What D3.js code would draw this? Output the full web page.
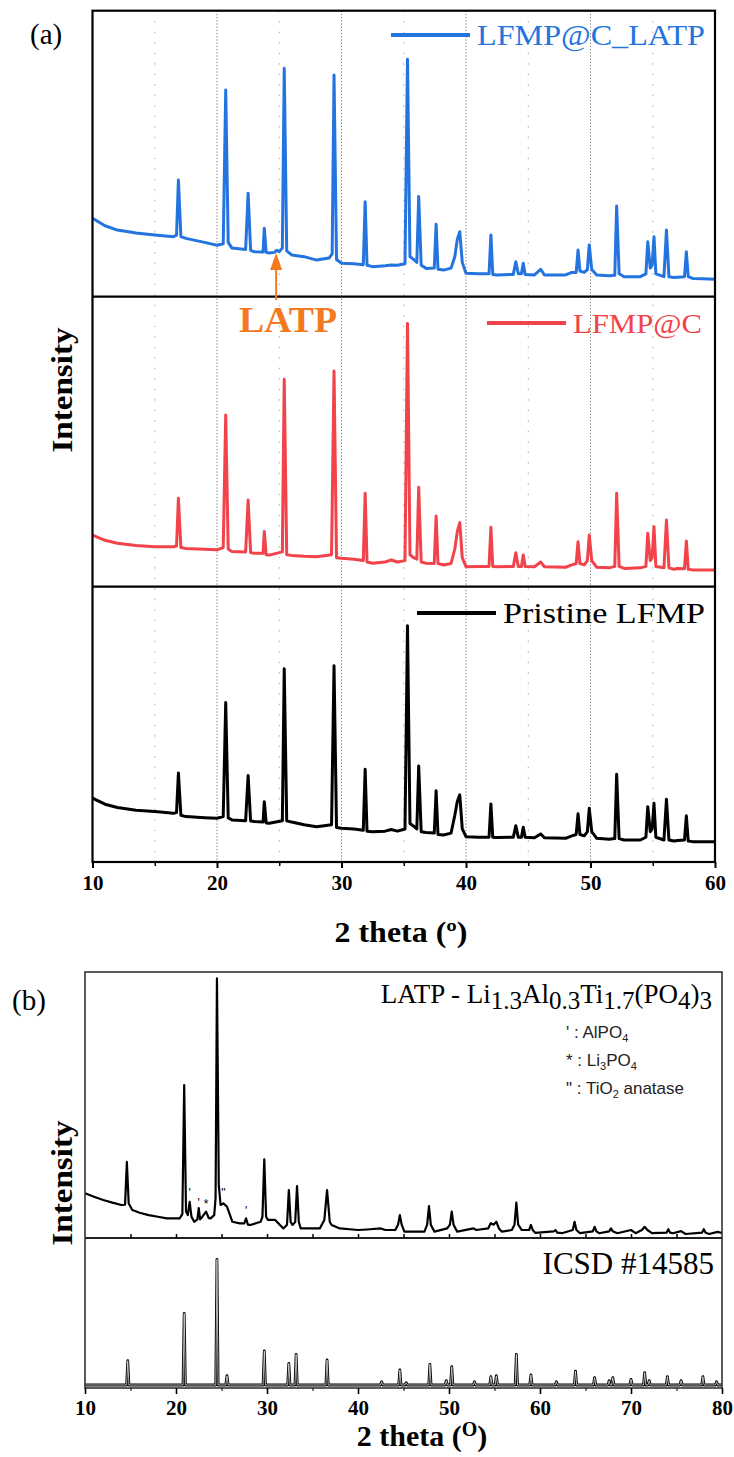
<!DOCTYPE html>
<html><head><meta charset="utf-8">
<script src="https://cdn.jsdelivr.net/npm/d3@7"></script>
<style>html,body{margin:0;padding:0;background:#fff;}svg{display:block;}</style>
</head><body>
<script>
// ---------- DATA ----------
const aTicks = [10, 20, 30, 40, 50, 60];
const bTicks = [10, 20, 30, 40, 50, 60, 70, 80];
const aSeriesNames = ["LFMP@C_LATP", "LFMP@C", "Pristine LFMP"];

const aBlue = [[10,27.4],[11,24.8],[12,23.3],[13.5,22.3],[15,21.6],[16.5,21],[16.75,21.5],[16.9,40.8],[17.1,21],[17.5,20.4],[19,19],[20,18],[20.5,18.5],[20.7,72.3],[20.9,19],[21.2,17],[22.3,16.5],[22.5,36.2],[22.7,16.2],[23,15.7],[23.7,15.6],[23.8,23.9],[23.95,15.5],[24.2,15.3],[24.6,15.5],[24.8,16.2],[25.0,15.8],[25.25,17],[25.4,79.9],[25.6,16],[26,14.6],[27,14],[28,12.8],[29,13.5],[29.25,15],[29.4,77.5],[29.6,13],[30,11.7],[31,11.5],[31.75,11.2],[31.9,33.2],[32.05,11],[32.5,10.5],[33.5,10.8],[34,11.1],[34.5,11],[35.1,11.5],[35.3,83],[35.5,14],[35.8,13],[36.05,12],[36.2,35],[36.4,11],[36.8,9.9],[37.45,10],[37.6,25.3],[37.75,9.6],[38.2,9.3],[38.8,10],[39.1,14],[39.3,20],[39.5,22.7],[39.7,12],[40,8.2],[41,8],[41.85,8],[42,21.6],[42.15,7.8],[42.5,7.6],[43.8,7.8],[44,12.2],[44.2,8],[44.45,8],[44.6,11.7],[44.75,7.8],[45.5,7.6],[46,9.6],[46.3,7.6],[48,7.6],[48.5,8.5],[48.85,8.5],[49,16.3],[49.15,9],[49.5,8.5],[49.75,9.5],[49.9,18.1],[50.1,9.5],[50.5,7.6],[51.5,7.3],[51.95,7.5],[52.1,31.7],[52.3,8],[52.7,7],[54,7],[54.45,8],[54.6,19.2],[54.8,10],[54.95,11],[55.1,21],[55.25,8],[55.9,7],[56.1,23.3],[56.3,7],[56.7,6.7],[57,6.8],[57.55,7],[57.7,15.7],[57.85,7],[58.2,6.4],[59,6.3],[60,6.1]];

const aRed = [[10,17.8],[11,16],[12,15],[13.5,14.2],[15,13.8],[16.5,13.8],[16.75,14],[16.9,30.5],[17.1,13.5],[17.5,13.2],[19,12.9],[20,12.7],[20.5,13.5],[20.7,59.2],[20.9,13],[21.2,12.1],[22.3,12],[22.5,29.9],[22.7,11.8],[23,11.5],[23.7,11.5],[23.8,19],[23.95,11],[24.2,10.9],[25.25,12],[25.4,71.5],[25.6,11],[26,10.8],[27,10.5],[28,10.3],[29.2,11],[29.4,74.4],[29.6,10],[30,9.8],[31,9.5],[31.75,9],[31.9,32.2],[32.05,8.5],[32.5,8.1],[33.5,8.5],[34,9.2],[34.5,8.5],[35.1,9],[35.3,90.8],[35.5,11],[35.8,10],[36.05,9.5],[36.2,34.3],[36.4,8.5],[36.8,8.1],[37.45,8],[37.6,24.4],[37.75,8],[38.2,7.5],[38.8,8],[39.1,13],[39.3,19],[39.5,22.1],[39.7,10],[40,6.9],[41,7],[41.85,7],[42,20.5],[42.15,7],[42.5,6.9],[43.8,7],[44,11.7],[44.2,7],[44.45,7],[44.6,10.9],[44.75,7],[45.5,6.9],[46,8.5],[46.3,6.9],[48,6.7],[48.5,7.5],[48.85,8],[49,15.5],[49.15,8],[49.5,7.5],[49.75,9],[49.9,17.8],[50.1,9],[50.5,6.7],[51.5,6.5],[51.95,7],[52.1,32.2],[52.3,7],[52.7,6.3],[54,6.5],[54.45,7],[54.6,18.4],[54.8,9],[54.95,10],[55.1,20.7],[55.25,7],[55.9,6.5],[56.1,23],[56.3,6.5],[56.7,6],[57,6.3],[57.55,6.2],[57.7,15.8],[57.85,6],[58.2,5.8],[59,5.8],[60,5.8]];

const aBlack = [[10,23.2],[11,21],[12,19.8],[13.5,18.8],[15,18.3],[16.5,17.7],[16.75,18],[16.9,32.3],[17.1,17],[17.5,16.5],[19,16.1],[20,15.9],[20.5,16.5],[20.7,57.9],[20.9,16],[21.2,15.3],[22.3,15],[22.5,31.4],[22.7,14.9],[23,14.7],[23.7,14.5],[23.8,21.9],[23.95,14.2],[24.2,14.1],[25.25,15],[25.4,70.2],[25.6,15],[26,14.5],[27,13.5],[28,12.8],[29.2,13.5],[29.4,71.3],[29.6,12.5],[30,12.3],[31,12],[31.75,11.5],[31.9,33.7],[32.05,11.2],[32.5,11],[33.5,11.2],[34,11.8],[34.5,11.2],[35.1,12],[35.3,85.8],[35.5,14],[35.8,13],[36.05,12],[36.2,34.9],[36.4,11],[36.8,10.7],[37.45,10.5],[37.6,25.9],[37.75,10],[38.2,9.8],[38.8,10.5],[39.1,17],[39.3,22],[39.5,24.4],[39.7,12],[40,9.2],[41,9],[41.85,9],[42,21.1],[42.15,9],[42.5,8.9],[43.8,9],[44,13.2],[44.2,9],[44.45,9],[44.6,12.6],[44.75,9],[45.5,8.8],[46,10.2],[46.3,8.8],[48,8.6],[48.5,9.5],[48.85,10],[49,17.5],[49.15,10],[49.5,9.5],[49.75,11],[49.9,19.5],[50.1,11],[50.5,8.6],[51.5,8.3],[51.95,8.5],[52.1,31.9],[52.3,8.5],[52.7,8],[54,8],[54.45,9],[54.6,20.1],[54.8,11],[54.95,12],[55.1,21.3],[55.25,9],[55.9,8],[56.1,22.8],[56.3,8],[56.7,7.6],[57,7.8],[57.55,8],[57.7,16.8],[57.85,7.6],[58.2,7.4],[59,7.4],[60,7.4]];

const latpArrowPos = 24.75;

const bLATP = [[10,16.8],[11,15.5],[12,14.3],[13,13.3],[14,12.4],[14.4,12.5],[14.6,28.6],[14.8,13],[15.2,10.5],[16,9.5],[17,8.6],[18,8],[19,7.4],[20.4,7.4],[20.7,9],[20.9,57.5],[21.1,10],[21.3,8.6],[21.5,13.6],[21.7,8],[22,6.1],[22.35,7],[22.5,11.2],[22.65,7],[22.9,8],[23.3,9.9],[23.6,7.5],[23.8,7.4],[24.2,8.6],[24.35,15],[24.5,97.6],[24.7,20],[24.9,12.4],[25.2,13],[25.6,11.8],[26.2,6.1],[27,5.5],[27.5,5.5],[27.7,7.4],[27.9,5],[28.2,4.9],[29.3,6.1],[29.5,8],[29.7,29.6],[29.9,8],[30.1,6.8],[30.9,6.8],[31.4,5],[31.8,3.6],[32.2,5],[32.4,18],[32.6,6],[32.8,4.9],[33.1,6],[33.3,19.5],[33.5,6],[33.7,3.6],[35.8,3.6],[36.3,6.8],[36.6,18],[36.9,6],[37.1,4.9],[38,3.6],[40,3],[41,3.2],[42.5,3.6],[43,3],[44.1,3],[44.4,5],[44.6,8.6],[44.8,5],[45.1,2.4],[47.3,2.4],[47.6,5],[47.8,12],[48.0,5],[48.4,2.4],[49.8,3.6],[50.1,5],[50.3,9.9],[50.5,5],[50.9,2.4],[52.7,3.6],[53,3],[54.3,3.6],[54.6,5.6],[54.9,5],[55.2,6.1],[55.5,3.5],[55.8,2.4],[56.9,3],[57.2,5],[57.4,13.3],[57.6,5],[58,3],[58.8,3],[59,4.9],[59.2,3],[59.5,1.9],[61.5,2.5],[61.7,3],[61.9,2],[62.4,1.8],[63.6,3],[63.8,6.1],[64.0,3],[64.4,1.8],[65.8,2.5],[66,4.2],[66.2,2.5],[66.5,1.8],[67.6,2.5],[67.8,3.6],[68,2.5],[68.5,1.8],[70,3],[70.5,1.8],[71.2,3],[71.5,4.2],[71.8,3],[72.3,1.8],[73.9,2],[74.1,3.3],[74.3,2],[74.6,1.8],[75.5,2.6],[76,1.5],[77.8,2],[78,3.3],[78.2,2],[78.6,1.5],[79.5,2.3],[80,1.9]];

const impurityPos = [21.5, 22.5, 23.3, 25.2, 27.7];
const impurityI = [17.3, 13.5, 13.2, 17.3, 10.5];
const impuritySym = ["'", "'", "*", "\"", "'"];

const icsdPos = [14.7,20.9,24.5,25.6,29.7,32.4,33.2,36.6,42.6,44.6,45.3,47.9,49.7,50.3,52.8,54.6,55.2,57.4,59.0,61.8,63.9,66.0,67.6,68.0,70.0,71.5,72.0,74.0,75.5,77.9,79.4];
const icsdHeight = [18.2,49.8,85.8,8.2,24.7,16.4,22.4,18.7,4.2,12,3.5,15.8,4.9,14.2,4.2,7.6,8.2,22.4,8.7,4.2,11.3,6.9,4.9,6.9,5.8,10.2,4.9,7.6,4.9,7.6,4.2];
const icsdBase = 2;

// ---------- DRAW ----------
const W = 734, H = 1457;
const serif = "'Liberation Serif','DejaVu Serif',serif";
const sans = "'Liberation Sans',Arial,sans-serif";
const svg = d3.select("body").append("svg").attr("width", W).attr("height", H)
  .style("background", "#fff");

// Panel (a)
const xA = d3.scaleLinear().domain([10, 60]).range([92.5, 715]);
const aPanels = [
  {top: 10.7, bot: 296.7, data: aBlue, color: "#2474e0"},
  {top: 296.7, bot: 586.7, data: aRed, color: "#f2424a"},
  {top: 586.7, bot: 862, data: aBlack, color: "#000"}
];
const gA = svg.append("g");

const gridVals = d3.range(15, 60, 5);
gA.selectAll("line.grid").data(gridVals).join("line")
  .attr("x1", d => xA(d)).attr("x2", d => xA(d))
  .attr("y1", 10.7).attr("y2", 862)
  .attr("stroke", d => d % 10 === 0 ? "#777" : "#aaa")
  .attr("stroke-width", 1)
  .attr("stroke-dasharray", d => d % 10 === 0 ? "1.2,2" : "1.5,9");

aPanels.forEach(p => {
  const y = d3.scaleLinear().domain([0, 100]).range([p.bot, p.top]);
  gA.append("path").datum(p.data)
    .attr("d", d3.line().x(d => xA(d[0])).y(d => y(d[1])))
    .attr("fill", "none").attr("stroke", p.color)
    .attr("stroke-width", 3).attr("stroke-linejoin", "round");
});

gA.append("rect").attr("x", 92.5).attr("y", 10.7).attr("width", 715 - 92.5).attr("height", 862 - 10.7)
  .attr("fill", "none").attr("stroke", "#000").attr("stroke-width", 2.2);
[296.7, 586.7].forEach(yy => gA.append("line").attr("x1", 92.5).attr("x2", 715)
  .attr("y1", yy).attr("y2", yy).attr("stroke", "#000").attr("stroke-width", 2.2));

const axA = gA.append("g").attr("transform", "translate(0,862)")
  .call(d3.axisBottom(xA).tickValues(aTicks).tickSize(6).tickPadding(7).tickFormat(d3.format("d")));
axA.select(".domain").remove();
axA.selectAll("line").attr("stroke-width", 2);
axA.selectAll("text").attr("font-family", serif).attr("font-weight", "bold").attr("font-size", 21).attr("fill", "#000");
const axAm = gA.append("g").attr("transform", "translate(0,862)")
  .call(d3.axisBottom(xA).tickValues(d3.range(15, 60, 10)).tickSize(4).tickFormat(""));
axAm.select(".domain").remove();
axAm.selectAll("line").attr("stroke-width", 1.5);

const legA = [
  {name: aSeriesNames[0], color: "#2474e0", x1: 391, x2: 470, ly: 35, tx: 477, ty: 45, fs: 30, tl: 228},
  {name: aSeriesNames[1], color: "#f2424a", x1: 487, x2: 566, ly: 323, tx: 573, ty: 333, fs: 28, tl: 129},
  {name: aSeriesNames[2], color: "#000", x1: 417, x2: 496, ly: 613, tx: 503, ty: 623, fs: 30, tl: 202}
];
legA.forEach(l => {
  gA.append("line").attr("x1", l.x1).attr("x2", l.x2).attr("y1", l.ly).attr("y2", l.ly)
    .attr("stroke", l.color).attr("stroke-width", 4);
  gA.append("text").attr("x", l.tx).attr("y", l.ty).text(l.name)
    .attr("font-family", serif).attr("font-size", l.fs).attr("fill", l.color)
    .attr("textLength", l.tl).attr("lengthAdjust", "spacingAndGlyphs");
});

const ax = xA(latpArrowPos);
gA.append("line").attr("x1", ax).attr("x2", ax).attr("y1", 266).attr("y2", 300)
  .attr("stroke", "#f47a1f").attr("stroke-width", 2);
gA.append("path").attr("d", `M${ax},253 L${ax - 6},270 L${ax + 6},270 Z`).attr("fill", "#f47a1f");
gA.append("text").attr("x", 239).attr("y", 332).text("LATP")
  .attr("font-family", serif).attr("font-size", 35).attr("font-weight", "bold").attr("fill", "#f47a1f")
  .attr("textLength", 98).attr("lengthAdjust", "spacingAndGlyphs");

svg.append("text").attr("x", 30).attr("y", 44).text("(a)").attr("font-family", serif).attr("font-size", 29);
svg.append("text").attr("transform", "translate(72,390) rotate(-90)").attr("text-anchor", "middle")
  .text("Intensity").attr("font-family", serif).attr("font-weight", "bold").attr("font-size", 29)
  .attr("textLength", 125).attr("lengthAdjust", "spacingAndGlyphs");
svg.append("text").attr("x", 401).attr("y", 942).attr("text-anchor", "middle")
  .attr("font-family", serif).attr("font-weight", "bold").attr("font-size", 29)
  .attr("textLength", 133).attr("lengthAdjust", "spacingAndGlyphs").text("2 theta (º)");

// Panel (b)
const xB = d3.scaleLinear().domain([10, 80]).range([85, 722]);
const yBt = d3.scaleLinear().domain([0, 100]).range([1238, 972]);
const yBb = d3.scaleLinear().domain([0, 100]).range([1388, 1238]);
const gB = svg.append("g");

gB.append("path").datum(bLATP)
  .attr("d", d3.line().x(d => xB(d[0])).y(d => yBt(d[1])))
  .attr("fill", "none").attr("stroke", "#000").attr("stroke-width", 2.2).attr("stroke-linejoin", "round");

gB.selectAll("text.imp").data(impurityPos).join("text")
  .attr("x", d => xB(d)).attr("y", (d, i) => yBt(impurityI[i]) + 5)
  .attr("text-anchor", "middle").attr("font-family", sans).attr("font-size", 12)
  .attr("fill", "#000").attr("fill-opacity", 1)
  .text((d, i) => impuritySym[i]);

const icsdPts = [[10, icsdBase]];
icsdPos.forEach((p, i) => { icsdPts.push([p - 0.13, icsdBase], [p, icsdHeight[i]], [p + 0.13, icsdBase]); });
icsdPts.push([80, icsdBase]);
const icsdLine = d3.line().x(d => xB(d[0])).y(d => yBb(d[1]));
gB.append("path").datum(icsdPts).attr("d", icsdLine).attr("fill", "none")
  .attr("stroke", "#000").attr("stroke-width", 2.8).attr("stroke-linejoin", "round");
gB.append("path").datum(icsdPts).attr("d", icsdLine).attr("fill", "none")
  .attr("stroke", "#fff").attr("stroke-width", 0.7).attr("stroke-linejoin", "round");

gB.append("rect").attr("x", 85).attr("y", 972).attr("width", 722 - 85).attr("height", 1388 - 972)
  .attr("fill", "none").attr("stroke", "#333").attr("stroke-width", 1.6);
gB.append("line").attr("x1", 85).attr("x2", 722).attr("y1", 1238).attr("y2", 1238)
  .attr("stroke", "#222").attr("stroke-width", 2);

const axBs = gB.append("g").attr("transform", "translate(0,1238)")
  .call(d3.axisTop(xB).tickValues(d3.range(15, 80, 5)).tickSize(4).tickFormat(""));
axBs.select(".domain").remove();
axBs.selectAll("line").attr("stroke-width", 1.5);

const axB = gB.append("g").attr("transform", "translate(0,1388)")
  .call(d3.axisBottom(xB).tickValues(bTicks).tickSize(6).tickPadding(6).tickFormat(d3.format("d")));
axB.select(".domain").remove();
axB.selectAll("line").attr("stroke-width", 1.6);
axB.selectAll("text").attr("font-family", serif).attr("font-weight", "bold").attr("font-size", 21).attr("fill", "#000");
const axBm = gB.append("g").attr("transform", "translate(0,1388)")
  .call(d3.axisBottom(xB).tickValues(d3.range(15, 80, 10)).tickSize(3).tickFormat(""));
axBm.select(".domain").remove();

svg.append("text").attr("x", 12).attr("y", 1010).text("(b)").attr("font-family", serif).attr("font-size", 29);
const t = svg.append("text").attr("x", 712).attr("y", 1003).attr("text-anchor", "end")
  .attr("font-family", serif).attr("font-size", 27);
t.append("tspan").text("LATP - Li");
t.append("tspan").attr("dy", 6).attr("font-size", 25).text("1.3");
t.append("tspan").attr("dy", -6).text("Al");
t.append("tspan").attr("dy", 6).attr("font-size", 25).text("0.3");
t.append("tspan").attr("dy", -6).text("Ti");
t.append("tspan").attr("dy", 6).attr("font-size", 25).text("1.7");
t.append("tspan").attr("dy", -6).text("(PO");
t.append("tspan").attr("dy", 6).attr("font-size", 25).text("4");
t.append("tspan").attr("dy", -6).text(")");
t.append("tspan").attr("dy", 6).attr("font-size", 25).text("3");

const legB = [
  [["' : AlPO", 0], ["4", 1]],
  [["* : Li", 0], ["3", 1], ["PO", 0], ["4", 1]],
  [["\" : TiO", 0], ["2", 1], [" anatase", 0]]
];
legB.forEach((parts, i) => {
  const tt = svg.append("text").attr("x", 566).attr("y", 1038 + i * 28)
    .attr("font-family", sans).attr("font-size", 17).attr("fill", "#222");
  let sub = 0;
  parts.forEach(([s, isSub]) => {
    const dy = isSub && !sub ? 4 : (!isSub && sub ? -4 : 0);
    tt.append("tspan").attr("dy", dy).attr("font-size", isSub ? 11 : 17).text(s);
    sub = isSub;
  });
});

svg.append("text").attr("x", 714).attr("y", 1274).attr("text-anchor", "end")
  .attr("font-family", serif).attr("font-size", 31).text("ICSD #14585");

svg.append("text").attr("transform", "translate(72,1183) rotate(-90)").attr("text-anchor", "middle")
  .text("Intensity").attr("font-family", serif).attr("font-weight", "bold").attr("font-size", 29)
  .attr("textLength", 125).attr("lengthAdjust", "spacingAndGlyphs");

const xt = svg.append("text").attr("x", 422).attr("y", 1446).attr("text-anchor", "middle")
  .attr("font-family", serif).attr("font-weight", "bold").attr("font-size", 30);
xt.append("tspan").text("2 theta (");
xt.append("tspan").attr("dy", -10).attr("font-size", 20).text("O");
xt.append("tspan").attr("dy", 10).text(")");
</script>
</body></html>
